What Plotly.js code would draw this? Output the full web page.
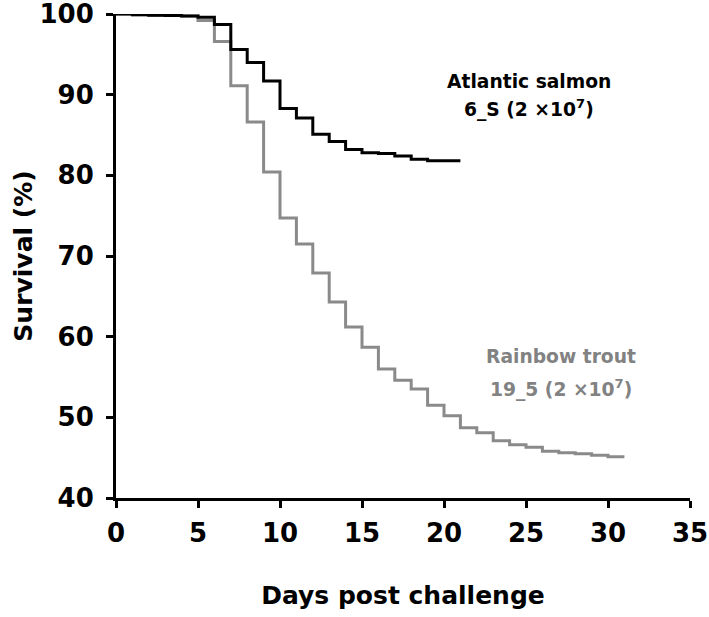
<!DOCTYPE html>
<html>
<head>
<meta charset="utf-8">
<script src="https://cdn.plot.ly/plotly-3.0.1.min.js"></script>
<style>html,body{margin:0;padding:0;background:#fff;}#chart{width:709px;height:617px;}</style>
</head>
<body>
<div id="chart"></div>
<script>
// Atlantic salmon 6_S
var salmonDays = [0,1,2,3,4,5,6,7,8,9,10,11,12,13,14,15,16,17,18,19,20,21];
var salmonSurvival = [100,99.9,99.85,99.8,99.75,99.6,98.7,95.6,94.0,91.7,88.3,87.1,85.1,84.2,83.2,82.8,82.7,82.4,82.0,81.8,81.8,81.8];
// Rainbow trout 19_5
var troutDays = [0,1,2,3,4,5,6,7,8,9,10,11,12,13,14,15,16,17,18,19,20,21,22,23,24,25,26,27,28,29,30,31];
var troutSurvival = [100,99.9,99.85,99.8,99.75,99.2,96.6,91.1,86.6,80.4,74.7,71.5,67.9,64.3,61.2,58.7,56.0,54.6,53.5,51.5,50.2,48.7,48.1,47.1,46.6,46.3,45.8,45.6,45.5,45.3,45.1,45.1];
var xTicks = [0,5,10,15,20,25,30,35];
var yTicks = [40,50,60,70,80,90,100];

var FONT = '"DejaVu Sans", sans-serif';
var grey = '#8a8a8a';
var greyText = '#828282';

var traces = [
  {x: troutDays, y: troutSurvival, type: 'scatter', mode: 'lines', line: {shape: 'hv', color: grey, width: 3}, hoverinfo: 'skip'},
  {x: salmonDays, y: salmonSurvival, type: 'scatter', mode: 'lines', line: {shape: 'hv', color: '#000', width: 3}, hoverinfo: 'skip'}
];

var layout = {
  width: 709, height: 617,
  margin: {l: 116, r: 19, t: 14, b: 119},
  paper_bgcolor: '#fff', plot_bgcolor: '#fff',
  showlegend: false,
  font: {family: FONT, color: '#000'},
  xaxis: {
    range: [0, 35], tickvals: xTicks, ticktext: xTicks.map(String),
    showgrid: false, zeroline: false, showline: true, linecolor: '#000', linewidth: 3,
    ticks: 'outside', ticklen: 7, tickwidth: 3, tickcolor: '#000', ticklabeloverflow: 'allow',
    ticklabelstandoff: 3,
    tickfont: {family: FONT, size: 26, color: '#000', weight: 'bold'},
    title: {text: '<b>Days post challenge</b>', font: {family: FONT, size: 25, color: '#000'}, standoff: 40},
    automargin: false
  },
  yaxis: {
    range: [40, 100], tickvals: yTicks, ticktext: yTicks.map(String),
    showgrid: false, zeroline: false, showline: true, linecolor: '#000', linewidth: 3,
    ticks: 'outside', ticklen: 7, tickwidth: 3, tickcolor: '#000', ticklabeloverflow: 'allow',
    ticklabelstandoff: 7,
    tickfont: {family: FONT, size: 26, color: '#000', weight: 'bold'},
    title: {text: '<b>Survival (%)</b>', font: {family: FONT, size: 25, color: '#000'}, standoff: 0},
    automargin: false
  },
  annotations: [
    {x: 25.2, y: 91.6, xref: 'x', yref: 'y', text: '<b>Atlantic salmon</b>', showarrow: false, font: {family: FONT, size: 18.7, color: '#000'}},
    {x: 25.2, y: 88.3, xref: 'x', yref: 'y', text: '<b>6_S (2 \u00d710<sup>7</sup>)</b>', showarrow: false, font: {family: FONT, size: 18.7, color: '#000'}},
    {x: 27.13, y: 57.6, xref: 'x', yref: 'y', text: '<b>Rainbow trout</b>', showarrow: false, font: {family: FONT, size: 18.7, color: greyText}},
    {x: 27.13, y: 53.6, xref: 'x', yref: 'y', text: '<b>19_5 (2 \u00d710<sup>7</sup>)</b>', showarrow: false, font: {family: FONT, size: 18.7, color: greyText}}
  ]
};

Plotly.newPlot('chart', traces, layout, {staticPlot: true, displayModeBar: false});
</script>
</body>
</html>
